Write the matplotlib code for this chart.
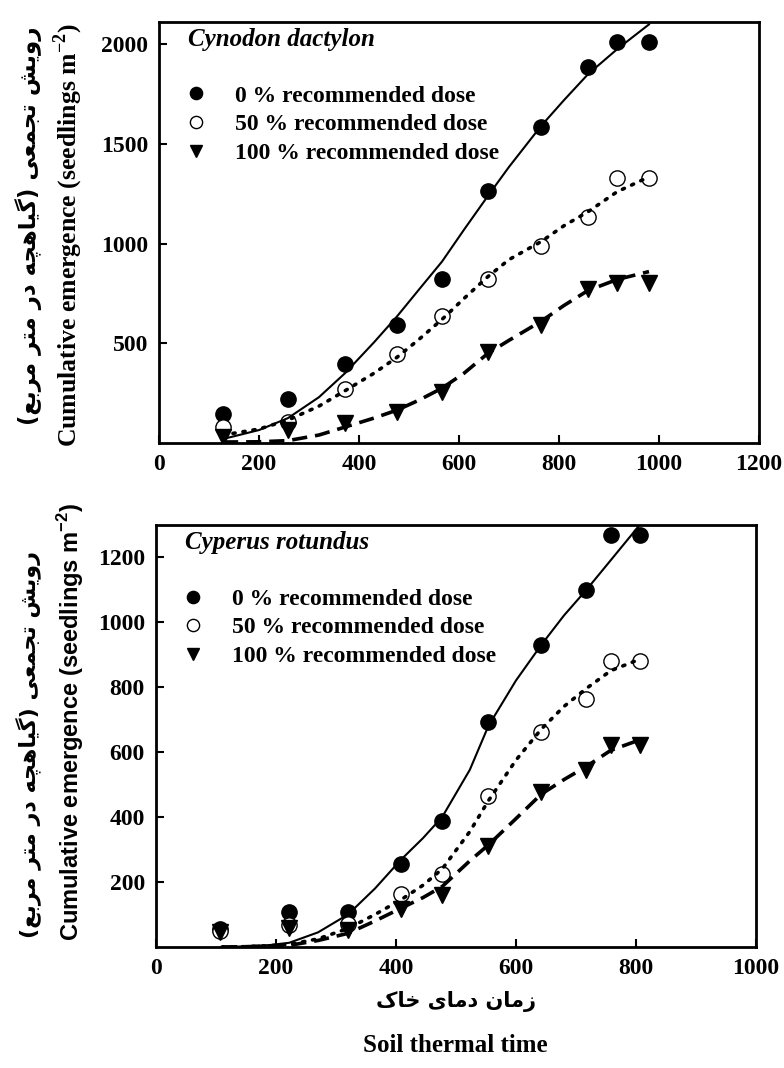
import matplotlib
matplotlib.use("Agg")
import matplotlib.pyplot as plt
from matplotlib.lines import Line2D

# ---------------- data ----------------
# Panel A: Cynodon dactylon
cd_x = [128, 258, 372, 476, 566, 658, 764, 858, 916, 980]
cd_0 = [145, 220, 395, 590, 825, 1265, 1585, 1885, 2010, 2010]
cd_50 = [80, 105, 270, 445, 635, 825, 990, 1135, 1330, 1330]
cd_100 = [30, 65, 100, 155, 255, 455, 590, 775, 805, 805]
# fitted curves
cd_fit_x = [128, 200, 258, 320, 372, 430, 476, 520, 566, 610, 658, 700, 764, 810, 858, 916, 980]
cd_fit_0 = [20, 65, 125, 230, 350, 505, 635, 770, 910, 1070, 1240, 1385, 1590, 1720, 1850, 1975, 2100]
cd_fit_50 = [40, 70, 115, 185, 262, 350, 430, 520, 620, 725, 835, 920, 1010, 1090, 1160, 1260, 1335]
cd_fit_100 = [5, 6, 12, 40, 80, 125, 165, 215, 275, 350, 450, 515, 610, 690, 765, 820, 860]

# Panel B: Cyperus rotundus
cr_x = [107, 222, 320, 408, 477, 554, 642, 717, 758, 806]
cr_0 = [55, 108, 108, 255, 388, 693, 930, 1097, 1268, 1268]
cr_50 = [50, 68, 70, 162, 224, 466, 662, 762, 880, 880]
cr_100 = [45, 57, 52, 117, 160, 312, 476, 545, 622, 622]
cr_fit_x = [110, 150, 190, 222, 270, 320, 365, 408, 445, 477, 523, 554, 600, 642, 680, 717, 758, 806]
cr_fit_0 = [0, 2, 6, 13, 45, 100, 180, 268, 335, 400, 545, 680, 820, 929, 1020, 1098, 1190, 1298]
cr_fit_50 = [0, 1, 4, 8, 25, 57, 100, 145, 190, 240, 355, 450, 575, 670, 740, 795, 850, 885]
cr_fit_100 = [0, 1, 3, 5, 20, 42, 80, 119, 152, 186, 265, 314, 395, 470, 515, 555, 605, 637]

top_xticks = [0, 200, 400, 600, 800, 1000, 1200]
top_yticks = [500, 1000, 1500, 2000]
bot_xticks = [0, 200, 400, 600, 800, 1000]
bot_yticks = [200, 400, 600, 800, 1000, 1200]

labels = ["0 % recommended dose", "50 % recommended dose", "100 % recommended dose"]
species = ["Cynodon dactylon", "Cyperus rotundus"]
ylabel_en = "Cumulative emergence (seedlings m$^{\\mathbf{-2}}$)"
ylabel_en_sans = "Cumulative emergence (seedlings m$^{\\mathregular{-2}}$)"
ylabel_fa = "رویش تجمعی (گیاهچه در متر مربع)"
xlabel_fa = "زمان دمای خاک"
xlabel_en = "Soil thermal time"

# ---------------- minimal Persian shaping ----------------
FORMS = {
    'ا': ('\uFE8D', '\uFE8E', None, None),
    'ب': ('\uFE8F', '\uFE90', '\uFE91', '\uFE92'),
    'ت': ('\uFE95', '\uFE96', '\uFE97', '\uFE98'),
    'ج': ('\uFE9D', '\uFE9E', '\uFE9F', '\uFEA0'),
    'چ': ('\uFB7A', '\uFB7B', '\uFB7C', '\uFB7D'),
    'خ': ('\uFEA5', '\uFEA6', '\uFEA7', '\uFEA8'),
    'د': ('\uFEA9', '\uFEAA', None, None),
    'ر': ('\uFEAD', '\uFEAE', None, None),
    'ز': ('\uFEAF', '\uFEB0', None, None),
    'ش': ('\uFEB5', '\uFEB6', '\uFEB7', '\uFEB8'),
    'ع': ('\uFEC9', '\uFECA', '\uFECB', '\uFECC'),
    'ک': ('\uFB8E', '\uFB8F', '\uFB90', '\uFB91'),
    'گ': ('\uFB92', '\uFB93', '\uFB94', '\uFB95'),
    'م': ('\uFEE1', '\uFEE2', '\uFEE3', '\uFEE4'),
    'ن': ('\uFEE5', '\uFEE6', '\uFEE7', '\uFEE8'),
    'ه': ('\uFEE9', '\uFEEA', '\uFEEB', '\uFEEC'),
    'و': ('\uFEED', '\uFEEE', None, None),
    'ی': ('\uFBFC', '\uFBFD', '\uFBFE', '\uFBFF'),
}


def shape_fa(s):
    out = []
    for i, c in enumerate(s):
        if c not in FORMS:
            out.append(c)
            continue
        prev = s[i - 1] if i > 0 else ''
        nxt = s[i + 1] if i + 1 < len(s) else ''
        jp = prev in FORMS and FORMS[prev][2] is not None
        jn = FORMS[c][2] is not None and nxt in FORMS
        iso, fin, ini, med = FORMS[c]
        out.append(med if (jp and jn) else fin if jp else ini if jn else iso)
    vis = ''.join(reversed(out))
    return vis.translate(str.maketrans('()', ')('))


# ---------------- styling ----------------
plt.rcParams['font.family'] = ['Liberation Serif', 'DejaVu Serif']
plt.rcParams['font.weight'] = 'bold'
plt.rcParams['mathtext.fontset'] = 'custom'
plt.rcParams['mathtext.bf'] = 'Liberation Serif:bold'
plt.rcParams['mathtext.rm'] = 'Liberation Serif:bold'

FS = 17
fig = plt.figure(figsize=(7.84, 10.68), dpi=100)
ax1 = fig.add_axes([0.2028, 0.5852, 0.7653, 0.3942])
ax2 = fig.add_axes([0.1990, 0.1133, 0.7653, 0.3951])

ms = 11


def draw(ax, x, ys, fx, fits, xlim, ylim, xt, yt, title):
    styles = [dict(marker='o', mfc='black', mec='black'),
              dict(marker='o', mfc='white', mec='black'),
              dict(marker='v', mfc='black', mec='black')]
    lss = [dict(ls='-', lw=1.5), dict(ls=(0, (0.6, 2.2)), lw=2.6, dash_capstyle='round'),
           dict(ls=(0, (4.2, 2.2)), lw=2.6)]
    for y, st in zip(ys, styles):
        ax.plot(x, y, ls='none', ms=ms, mew=1.0, zorder=2, **st)
    for f, ls in zip(fits, lss):
        ax.plot(fx, f, color='black', zorder=3, **ls)
    ax.set_xlim(*xlim)
    ax.set_ylim(*ylim)
    ax.set_xticks(xt)
    ax.set_yticks(yt)
    ax.tick_params(direction='in', length=6, width=1.5, labelsize=FS, pad=8)
    for lab in ax.get_xticklabels() + ax.get_yticklabels():
        lab.set_fontweight('bold')
    for sp in ax.spines.values():
        sp.set_linewidth(2)
    ax.text(0.048, 0.958, title, transform=ax.transAxes, fontsize=18,
            fontstyle='italic', fontweight='bold', va='center', ha='left')
    handles = [Line2D([], [], ls='none', ms=ms * 0.8, **st) for st in styles]
    ax.legend(handles, labels, loc='upper left', bbox_to_anchor=(0.042, 0.85),
              frameon=False, handlelength=1.0, handletextpad=1.15,
              labelspacing=0.3, borderpad=0, borderaxespad=0,
              prop=dict(family='Liberation Serif', weight='bold', size=FS))


draw(ax1, cd_x, [cd_0, cd_50, cd_100], cd_fit_x, [cd_fit_0, cd_fit_50, cd_fit_100],
     (0, 1200), (0, 2112), top_xticks, top_yticks, species[0])
draw(ax2, cr_x, [cr_0, cr_50, cr_100], cr_fit_x, [cr_fit_0, cr_fit_50, cr_fit_100],
     (0, 1000), (0, 1298), bot_xticks, bot_yticks, species[1])

# y labels
fig.text(0.087, 1 - 235 / 1068, ylabel_en, rotation=90, ha='center', va='center',
         fontsize=18.5, fontweight='bold', family='Liberation Serif')
fig.text(0.036, 1 - 226 / 1068, shape_fa(ylabel_fa), rotation=90, ha='center', va='center',
         fontsize=16.5, fontweight='bold', family=['DejaVu Sans'])
fig.text(0.090, 1 - 722 / 1068, ylabel_en_sans,
         rotation=90, ha='center', va='center',
         fontsize=17, fontweight='bold', family='Liberation Sans')
fig.text(0.036, 1 - 745 / 1068, shape_fa(ylabel_fa), rotation=90, ha='center', va='center',
         fontsize=16, fontweight='bold', family=['DejaVu Sans'])

# x labels
fig.text(0.581, 1 - 1002 / 1068, shape_fa(xlabel_fa), ha='center', va='center',
         fontsize=15, fontweight='bold', family=['DejaVu Sans'])
fig.text(0.581, 1 - 1046 / 1068, xlabel_en, ha='center', va='center',
         fontsize=18, fontweight='bold', family='Liberation Serif')

fig.savefig('out.png', dpi=100)
